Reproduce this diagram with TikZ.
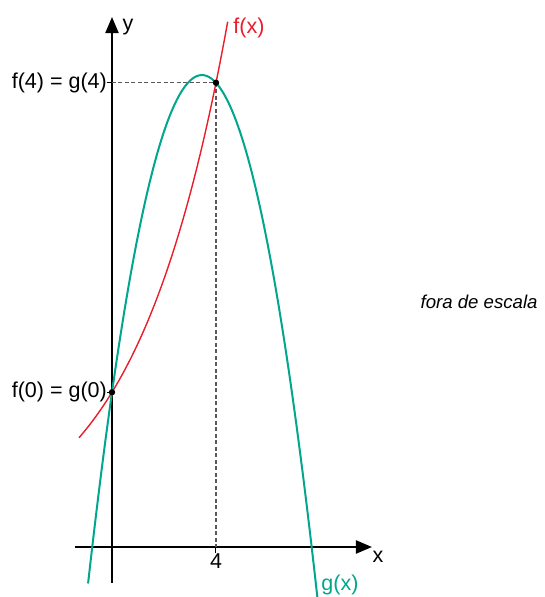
\documentclass[tikz,border=0pt]{standalone}
\usepackage{fontspec}
\setmainfont{Liberation Sans}
\usetikzlibrary{arrows.meta, positioning}

\begin{document}
\begin{tikzpicture}[>={Triangle[length=16pt, width=13pt]}, x=26pt, y=26.5pt,
    lbl/.style={font=\fontsize{21.5}{25}\selectfont, inner sep=2pt},
    tick/.style={line width=1pt}]
    % Màu sắc cho hai đồ thị
    \definecolor{fred}{RGB}{232, 30, 42}
    \definecolor{gteal}{RGB}{0, 166, 142}

    \useasboundingbox (-4.3077,-1.887) rectangle (16.654,20.642);

    % 1. Trục tọa độ
    \draw[->, line width=2.2pt] (-1.423,0) -- (10.0,0) coordinate (xtip);
    \draw[->, line width=2.2pt] (0,-1.34) -- (0,20.0) coordinate (ytip);
    \node[lbl] (xlab) at ([xshift=6pt, yshift=-10pt]xtip) {x};
    \node[lbl] (ylab) at ([xshift=16pt, yshift=-10pt]ytip) {y};

    % 2. Các điểm giao nhau
    \coordinate (P0) at (0,5.84);
    \coordinate (P4) at (4,17.52);
    \coordinate (Y4) at (0,17.52);
    \coordinate (X4) at (4,0);

    % 3. Đường gióng
    \draw[dash pattern=on 4pt off 2.5pt, line width=1.3pt, black!65] (Y4) -- (P4) -- (X4);

    % 4. Đồ thị hàm số y = g(x) và y = f(x)
    \draw[gteal, line width=2pt, samples=120, domain=-0.92:7.91]
        plot (\x, {-(\x+0.76)*(\x-7.68)});
    \draw[fred, line width=1.4pt, samples=120, domain=-1.27:4.45]
        plot (\x, {5.84*pow(3,\x/4)});

    % 5. Vạch chia và nhãn
    \draw[tick] (Y4) -- ++(-5pt,0);
    \draw[tick] (P0) -- ++(-5pt,0);
    \draw[tick] (X4) -- ++(0,-6pt);
    \fill (P0) circle (3.2pt);
    \fill (P4) circle (3.2pt);

    \node[lbl, left=3pt] (f4) at (Y4) {f(4) = g(4)};
    \node[lbl, left=3pt] (f0) at (P0) {f(0) = g(0)};
    \node[lbl, below=5pt] (four) at (X4) {4};
    \node[lbl, text=fred] (flab) at (5.27,19.58) {f(x)};
    \node[lbl, text=gteal] (glab) at (8.77,-1.43) {g(x)};
    \node[font=\fontsize{18.6}{22}\selectfont\itshape] (scale) at (14.12,9.25) {fora de escala};
\end{tikzpicture}
\end{document}
